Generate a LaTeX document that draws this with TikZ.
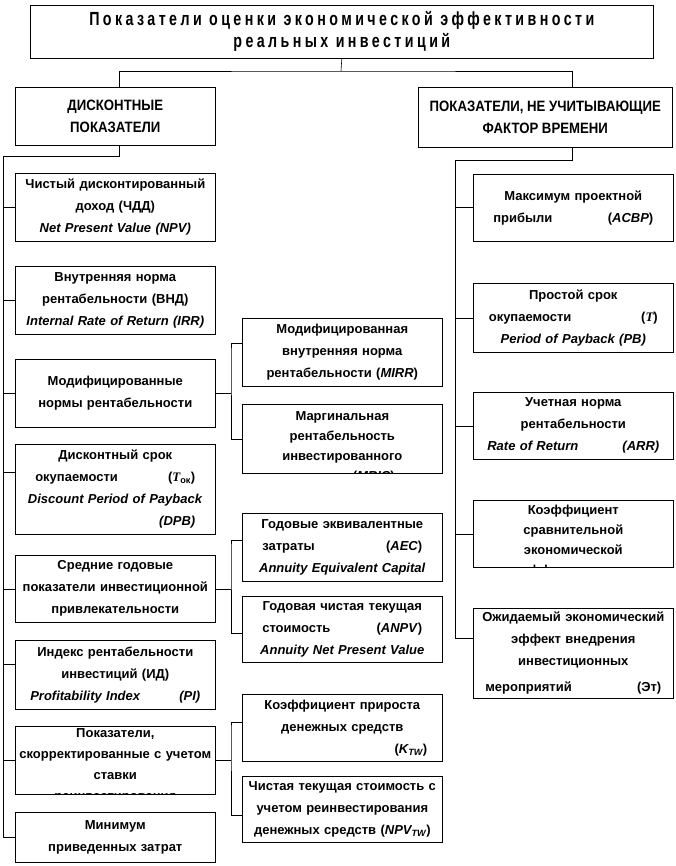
\documentclass[tikz,border=0pt]{standalone}
\usepackage{fontspec}
\setmainfont{Liberation Sans}
\newfontfamily\titlefont{Liberation Sans}[FakeStretch=0.75,LetterSpace=18]
\newfontfamily\headfont{Liberation Sans}[FakeStretch=0.88]
\newfontfamily\seriffont{Liberation Serif}
\newcommand{\lrline}[3][160pt]{\makebox[#1]{#2\hfill#3}}
\newcommand{\rline}[2][160pt]{\makebox[#1][r]{#2}}
\tikzset{
  box/.style={draw,line width=.6pt,anchor=north west,minimum width=200pt,minimum height=68pt,
    text width=194pt,inner sep=3pt,align=center,font=\fontsize{13}{22}\selectfont\bfseries},
  cuttext/.style={draw=none,fill=none,anchor=north,text width=194pt,inner sep=3pt,align=center,
    font=\fontsize{13}{#1}\selectfont\bfseries},
  head/.style={draw,line width=.6pt,anchor=north west,align=center,font=\headfont\bfseries\fontsize{15}{22}\selectfont},
  link/.style={line width=.6pt}
}
\begin{document}
\begin{tikzpicture}[x=1pt,y=-1pt]
\useasboundingbox (0,0) rectangle (675,866);
\fill[white] (0,0) rectangle (675,866);
% top level
\node[head,minimum width=623pt,minimum height=53pt,font=\titlefont\bfseries\fontsize{19}{22}\selectfont] (title) at (30,5)
  {Показатели оценки экономической эффективности\\реальных инвестиций};
\node[head,minimum width=200pt,minimum height=58pt] (disc) at (15,87) {ДИСКОНТНЫЕ\\ПОКАЗАТЕЛИ};
\node[head,minimum width=254pt,minimum height=60pt] (nondisc) at (418,87) {ПОКАЗАТЕЛИ, НЕ УЧИТЫВАЮЩИЕ\\ФАКТОР ВРЕМЕНИ};
% left column
\node[box] (b1) at (15,173) {Чистый дисконтированный\\доход (ЧДД)\\\textit{Net Present Value (NPV)}};
\node[box] (b2) at (15,266) {Внутренняя норма\\рентабельности (ВНД)\\\textit{Internal Rate of Return (IRR)}};
\node[box] (b3) at (15,359) {Модифицированные\\нормы рентабельности};
\node[box,minimum height=90pt] (b4) at (15,444) {Дисконтный срок\\\lrline{окупаемости}{({\seriffont\itshape T}\textsubscript{ок})}\\\textit{Discount Period of Payback}\\\rline{\textit{(DPB)}}};
\node[box,minimum height=67pt] (b5) at (15,555) {Средние годовые\\показатели инвестиционной\\привлекательности};
\node[box,minimum height=69pt] (b6) at (15,640) {Индекс рентабельности\\инвестиций (ИД)\\\lrline[170pt]{\textit{Profitability Index}}{\textit{(PI)}}};
\node[box,path picture={\node[cuttext=21pt] at ([yshift=1pt]path picture bounding box.north)
  {Показатели,\\скорректированные с учетом\\ставки\\реинвестирования};}] (b7) at (15,726) {};
\node[box,minimum height=50pt] (b8) at (15,812) {Минимум\\приведенных затрат};
% middle column
\node[box,minimum width=199pt] (m1) at (242,318) {Модифицированная\\внутренняя норма\\рентабельности (\textit{MIRR})};
\node[box,minimum width=199pt,minimum height=69pt,path picture={\node[cuttext=20pt] at ([yshift=-4pt]path picture bounding box.north)
  {Маргинальная\\рентабельность\\инвестированного\\капитала (\textit{MRIC})};}] (m2) at (242,404) {};
\node[box,minimum width=199pt] (m3) at (242,513) {Годовые эквивалентные\\\lrline{затраты}{(\textit{AEC})}\\\textit{Annuity Equivalent Capital}};
\node[box,minimum width=199pt,minimum height=66pt] (m4) at (242,596) {Годовая чистая текущая\\\lrline{стоимость}{(\textit{ANPV})}\\\textit{Annuity Net Present Value}};
\node[box,minimum width=199pt,minimum height=67pt] (m5) at (242,694) {Коэффициент прироста\\денежных средств\\\rline[170pt]{(\textit{K\textsubscript{TW}})}};
\node[box,minimum width=199pt,minimum height=66pt] (m6) at (242,776) {Чистая текущая стоимость с\\учетом реинвестирования\\денежных средств (\textit{NPV\textsubscript{TW}})};
% right column
\node[box,minimum width=199pt,minimum height=67pt] (r1) at (473,174) {Максимум проектной\\\lrline{прибыли}{(\textit{ACBP})}};
\node[box,minimum width=199pt,minimum height=69pt] (r2) at (473,283) {Простой срок\\\lrline[169pt]{окупаемости}{({\seriffont\itshape T})}\\\textit{Period of Payback (PB)}};
\node[box,minimum width=199pt,minimum height=67pt] (r3) at (473,392) {Учетная норма\\рентабельности\\\lrline[172pt]{\textit{Rate of Return}}{\textit{(ARR)}}};
\node[box,minimum width=199pt,minimum height=67pt,path picture={\node[cuttext=20pt] at ([yshift=-1pt]path picture bounding box.north)
  {Коэффициент\\сравнительной\\экономической\\эффективности};}] (r4) at (473,500) {};
\node[box,minimum width=199pt,minimum height=90pt] (r5) at (473,608) {Ожидаемый экономический\\эффект внедрения\\инвестиционных\\[4pt]\lrline[176pt]{мероприятий}{(Эт)}};
% connectors
\coordinate (hub) at (341,71);
\coordinate (lbus) at (3,156);
\coordinate (rbus) at (455,160);
\draw[link] (title.south) -- (hub);
\draw[link] ([xshift=4pt]disc.north) |- (hub) -| ([xshift=27pt]nondisc.north);
\draw[link] ([xshift=4pt]disc.south) |- (lbus) |- (b8.west);
\foreach \n in {b1,b2,b3,b5,b7}{\draw[link] (lbus |- \n.west) -- (\n.west);}
\coordinate (b4in) at ([yshift=17pt]b4.west);
\coordinate (b6in) at ([yshift=11pt]b6.west);
\draw[link] (lbus |- b4in) -- (b4in);
\draw[link] (lbus |- b6in) -- (b6in);
\coordinate (r5in) at ([yshift=15pt]r5.west);
\draw[link] ([xshift=27pt]nondisc.south) |- (rbus) |- (r5in);
\foreach \n in {r1,r2,r3,r4}{\draw[link] (rbus |- \n.west) -- (\n.west);}
% sub groups
\coordinate (g1) at ([xshift=-11pt]m1.west);
\draw[link] ([yshift=9pt]m1.west) -| (g1) |- (m2.west);
\draw[link] (b3.east) -- (g1 |- b3.east);
\coordinate (g2) at ([xshift=-11pt]m3.west);
\draw[link] ([yshift=7pt]m3.west) -| (g2) |- ([yshift=-4pt]m4.west);
\draw[link] (b5.east) -- (g2 |- b5.east);
\coordinate (g3) at ([xshift=-11pt]m5.west);
\draw[link] ([yshift=6pt]m5.west) -| (g3) |- ([yshift=-6pt]m6.west);
\draw[link] (b7.east) -- (g3 |- b7.east);
\end{tikzpicture}
\end{document}
